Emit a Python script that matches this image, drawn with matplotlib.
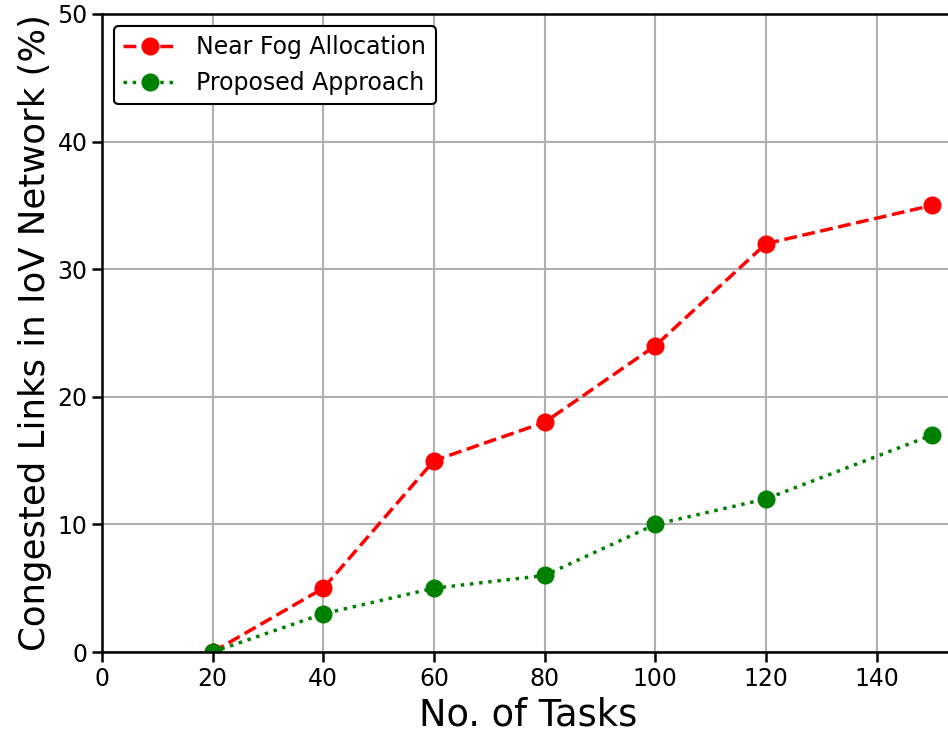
import matplotlib
matplotlib.use("Agg")
from matplotlib import pyplot as plt

# data
tasks = [20, 40, 60, 80, 100, 120, 150]
near_fog = [0, 5, 15, 18, 24, 32, 35]
proposed = [0, 3, 5, 6, 10, 12, 17]

fig = plt.figure(figsize=(9.48, 7.36), dpi=100)
# right spine falls just outside the picture, as in the reference
ax = fig.add_axes([0.1076, 0.1141, 0.9, 0.8669])

ax.plot(tasks, near_fog, 'r--', marker='o', markersize=12, linewidth=2.5,
        label='Near Fog Allocation')
ax.plot(tasks, proposed, color='green', linestyle=':', marker='o', markersize=12,
        linewidth=2.5, label='Proposed Approach')

ax.set_xlim(0, 154.2)
ax.set_ylim(0, 50)
ax.set_xticks(range(0, 141, 20))
ax.set_yticks(range(0, 51, 10))
ax.grid(True, color='#b0b0b0', linewidth=1.5)
ax.tick_params(labelsize=17, width=1.8, length=7)
for s in ax.spines.values():
    s.set_linewidth(1.8)

ax.set_xlabel('No. of Tasks', fontsize=26.5)
ax.set_ylabel('Congested Links in IoV Network (%)', fontsize=25.6)

leg = ax.legend(loc='upper left', fontsize=17, framealpha=1, handlelength=2.3)
leg.get_frame().set_edgecolor('black')
leg.get_frame().set_linewidth(1.5)

plt.savefig('out.png', dpi=100)
